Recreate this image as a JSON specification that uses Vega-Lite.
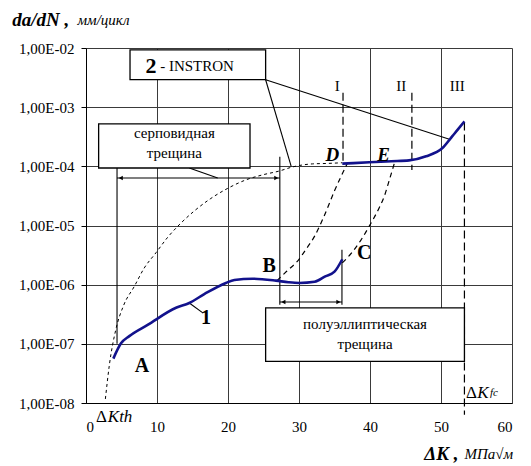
{
  "$schema": "https://vega.github.io/schema/vega-lite/v6.json",
  "width": 426,
  "height": 355,
  "autosize": {"type": "none"},
  "padding": {"left": 86, "top": 48, "right": 19, "bottom": 63},
  "background": "white",
  "config": {
    "view": {"stroke": null},
    "font": "Liberation Serif",
    "axis": {"labelFont": "Liberation Serif", "labelColor": "black", "gridColor": "#3a3a3a", "gridOpacity": 1, "gridWidth": 1, "domainColor": "black", "tickColor": "black"}
  },
  "datasets": {
    "curve1": [
      {"k": 3.85, "v": 5.62e-8}, {"k": 4.93, "v": 1.02e-7}, {"k": 6.1, "v": 1.35e-7}, {"k": 8.68, "v": 2.09e-7},
      {"k": 12.68, "v": 4.07e-7}, {"k": 14.55, "v": 4.9e-7}, {"k": 16.66, "v": 6.92e-7}, {"k": 19.7, "v": 1.07e-6},
      {"k": 20.9, "v": 1.2e-6}, {"k": 23.46, "v": 1.26e-6}, {"k": 26.76, "v": 1.17e-6}, {"k": 28.5, "v": 1.1e-6},
      {"k": 30.04, "v": 1.07e-6}, {"k": 32.2, "v": 1.12e-6}, {"k": 33.7, "v": 1.38e-6}, {"k": 35.0, "v": 1.66e-6},
      {"k": 36.1, "v": 2.69e-6}
    ],
    "curve2": [
      {"k": 36.1, "v": 1.11e-4}, {"k": 39.9, "v": 1.17e-4}, {"k": 43.0, "v": 1.22e-4}, {"k": 45.5, "v": 1.26e-4},
      {"k": 47.9, "v": 1.48e-4}, {"k": 50.2, "v": 2.04e-4}, {"k": 51.6, "v": 3.24e-4}, {"k": 52.5, "v": 4.37e-4},
      {"k": 53.3, "v": 5.75e-4}
    ],
    "serp": [
      {"k": 2.73, "v": 1.17e-8}, {"k": 3.3, "v": 4.47e-8}, {"k": 4.2, "v": 1.74e-7}, {"k": 5.3, "v": 4.47e-7},
      {"k": 6.8, "v": 9.33e-7}, {"k": 8.2, "v": 1.91e-6}, {"k": 9.86, "v": 3.47e-6}, {"k": 11.5, "v": 6.31e-6},
      {"k": 13.1, "v": 1.02e-5}, {"k": 15.2, "v": 1.74e-5}, {"k": 17.5, "v": 2.82e-5}, {"k": 20.0, "v": 4.27e-5},
      {"k": 22.5, "v": 5.89e-5}, {"k": 25.0, "v": 7.24e-5}, {"k": 27.2, "v": 8.32e-5}, {"k": 29.1, "v": 9.77e-5},
      {"k": 31.9, "v": 1.1e-4}, {"k": 34.0, "v": 1.12e-4}, {"k": 36.1, "v": 1.15e-4}
    ],
    "bd": [
      {"k": 26.9, "v": 1.17e-6}, {"k": 28.3, "v": 1.7e-6}, {"k": 29.8, "v": 2.51e-6}, {"k": 31.0, "v": 3.98e-6},
      {"k": 32.2, "v": 6.61e-6}, {"k": 33.5, "v": 1.41e-5}, {"k": 35.0, "v": 3.85e-5}, {"k": 36.85, "v": 1.15e-4}
    ],
    "ce": [
      {"k": 36.1, "v": 2.34e-6}, {"k": 37.5, "v": 3.55e-6}, {"k": 38.7, "v": 5.62e-6}, {"k": 39.9, "v": 9.77e-6},
      {"k": 41.3, "v": 2.0e-5}, {"k": 42.0, "v": 3.09e-5}, {"k": 42.8, "v": 6.31e-5}, {"k": 43.5, "v": 1.2e-4}
    ],
    "segs": [
      {"k": 25.3, "v": 2.91e-3, "k2": 51.4, "v2": 2.82e-4},
      {"k": 25.3, "v": 2.91e-3, "k2": 28.9, "v2": 1.0e-4},
      {"k": 14.55, "v": 9.38e-5, "k2": 18.55, "v2": 6.35e-5},
      {"k": 4.37, "v": 9.38e-5, "k2": 4.37, "v2": 1.0e-7},
      {"k": 27.3, "v": 1.45e-4, "k2": 27.3, "v2": 4.57e-7},
      {"k": 36.05, "v": 3.89e-6, "k2": 36.05, "v2": 4.57e-7},
      {"k": 14.55, "v": 4.9e-7, "k2": 16.5, "v2": 3.31e-7},
      {"k": 4.37, "v": 6.35e-5, "k2": 27.3, "v2": 6.35e-5},
      {"k": 27.3, "v": 5.09e-7, "k2": 36.05, "v2": 5.09e-7}
    ],
    "dashv": [
      {"k": 36.2, "v": 1.75e-3, "v2": 1.07e-4},
      {"k": 45.9, "v": 1.75e-3, "v2": 8.7e-5},
      {"k": 53.3, "v": 5.5e-4, "v2": 6.3e-9}
    ],
    "heads": [
      {"k": 4.9, "v": 6.35e-5, "dir": "triangle-left"},
      {"k": 26.8, "v": 6.35e-5, "dir": "triangle-right"},
      {"k": 27.8, "v": 5.09e-7, "dir": "triangle-left"},
      {"k": 35.55, "v": 5.09e-7, "dir": "triangle-right"}
    ],
    "boxes": [
      {"k": 6.2, "v": 9.33e-3, "k2": 25.3, "v2": 2.91e-3},
      {"k": 1.78, "v": 5.2e-4, "k2": 23.1, "v2": 9.38e-5},
      {"k": 25.3, "v": 4.04e-7, "k2": 53.3, "v2": 5.05e-8}
    ]
  },
  "layer": [
    {
      "data": {"values": [{"k": 0, "v": 1e-8}]},
      "mark": {"type": "point", "opacity": 0},
      "encoding": {
        "x": {"field": "k", "type": "quantitative", "scale": {"domain": [0, 60], "nice": false},
          "axis": {"values": [0, 10, 20, 30, 40, 50, 60], "title": null, "ticks": false, "labelFontSize": 15, "labelPadding": 16, "grid": true}},
        "y": {"field": "v", "type": "quantitative", "scale": {"type": "log", "domain": [1e-8, 1e-2], "nice": false},
          "axis": {"values": [1e-8, 1e-7, 1e-6, 1e-5, 1e-4, 1e-3, 1e-2], "title": null, "tickSize": 5, "labelPadding": 7, "labelFontSize": 15, "grid": true,
            "labelExpr": "'1,00E-' + format(round(-log(datum.value)/LN10), '02d')"}}
      }
    },
    {
      "data": {"name": "segs"},
      "mark": {"type": "rule", "color": "black", "strokeWidth": 1.1},
      "encoding": {"x": {"field": "k", "type": "quantitative"}, "y": {"field": "v", "type": "quantitative"}, "x2": {"field": "k2"}, "y2": {"field": "v2"}}
    },
    {
      "data": {"name": "heads"},
      "mark": {"type": "point", "filled": true, "color": "black", "size": 22, "opacity": 1},
      "encoding": {"x": {"field": "k", "type": "quantitative"}, "y": {"field": "v", "type": "quantitative"}, "shape": {"field": "dir", "type": "nominal", "scale": null}}
    },
    {
      "data": {"name": "dashv"},
      "mark": {"type": "rule", "color": "black", "strokeWidth": 1.2, "strokeDash": [8, 4]},
      "encoding": {"x": {"field": "k", "type": "quantitative"}, "y": {"field": "v", "type": "quantitative"}, "y2": {"field": "v2"}}
    },
    {
      "data": {"name": "serp"},
      "mark": {"type": "line", "color": "black", "strokeWidth": 1, "strokeDash": [3, 3], "interpolate": "monotone"},
      "encoding": {"x": {"field": "k", "type": "quantitative"}, "y": {"field": "v", "type": "quantitative"}}
    },
    {
      "data": {"name": "bd"},
      "mark": {"type": "line", "color": "black", "strokeWidth": 1.2, "strokeDash": [5, 4], "interpolate": "monotone"},
      "encoding": {"x": {"field": "k", "type": "quantitative"}, "y": {"field": "v", "type": "quantitative"}}
    },
    {
      "data": {"name": "ce"},
      "mark": {"type": "line", "color": "black", "strokeWidth": 1.2, "strokeDash": [5, 4], "interpolate": "monotone"},
      "encoding": {"x": {"field": "k", "type": "quantitative"}, "y": {"field": "v", "type": "quantitative"}}
    },
    {
      "data": {"name": "boxes"},
      "mark": {"type": "rect", "fill": "white", "stroke": "black", "strokeWidth": 1.3},
      "encoding": {"x": {"field": "k", "type": "quantitative"}, "y": {"field": "v", "type": "quantitative"}, "x2": {"field": "k2"}, "y2": {"field": "v2"}}
    },
    {
      "data": {"name": "curve1"},
      "mark": {"type": "line", "color": "#12128c", "strokeWidth": 2.6, "interpolate": "monotone"},
      "encoding": {"x": {"field": "k", "type": "quantitative"}, "y": {"field": "v", "type": "quantitative"}}
    },
    {
      "data": {"name": "curve2"},
      "mark": {"type": "line", "color": "#12128c", "strokeWidth": 2.6, "interpolate": "monotone"},
      "encoding": {"x": {"field": "k", "type": "quantitative"}, "y": {"field": "v", "type": "quantitative"}}
    },
    {
      "data": {"values": [
        {"t": "A", "k": 7.9, "v": 4.17e-8}, {"t": "B", "k": 25.8, "v": 2.04e-6},
        {"t": "C", "k": 39.2, "v": 3.47e-6}, {"t": "1", "k": 16.9, "v": 2.75e-7}
      ]},
      "mark": {"type": "text", "font": "Liberation Serif", "fontWeight": "bold", "fontSize": 20, "align": "center", "baseline": "middle"},
      "encoding": {"x": {"field": "k", "type": "quantitative"}, "y": {"field": "v", "type": "quantitative"}, "text": {"field": "t"}}
    },
    {
      "data": {"values": [{"t": "D", "k": 34.7, "v": 1.55e-4}, {"t": "E", "k": 41.9, "v": 1.55e-4}]},
      "mark": {"type": "text", "font": "Liberation Serif", "fontWeight": "bold", "fontStyle": "italic", "fontSize": 19, "align": "center", "baseline": "middle"},
      "encoding": {"x": {"field": "k", "type": "quantitative"}, "y": {"field": "v", "type": "quantitative"}, "text": {"field": "t"}}
    },
    {
      "data": {"values": [{"t": "I", "k": 35.4, "v": 2.24e-3}, {"t": "II", "k": 44.4, "v": 2.24e-3}, {"t": "III", "k": 52.3, "v": 2.24e-3}]},
      "mark": {"type": "text", "font": "Liberation Serif", "fontSize": 15, "align": "center", "baseline": "middle"},
      "encoding": {"x": {"field": "k", "type": "quantitative"}, "y": {"field": "v", "type": "quantitative"}, "text": {"field": "t"}}
    },
    {
      "data": {"values": [
        {"t": "серповидная", "k": 12.45, "v": 3.66e-4}, {"t": "трещина", "k": 12.45, "v": 1.68e-4},
        {"t": "полуэллиптическая", "k": 39.3, "v": 2.19e-7}, {"t": "трещина", "k": 39.3, "v": 1.0e-7}
      ]},
      "mark": {"type": "text", "font": "Liberation Serif", "fontSize": 15, "align": "center", "baseline": "middle"},
      "encoding": {"x": {"field": "k", "type": "quantitative"}, "y": {"field": "v", "type": "quantitative"}, "text": {"field": "t"}}
    },
    {
      "data": {"values": [{"t": "2", "k": 9.15, "v": 5.0e-3}]},
      "mark": {"type": "text", "font": "Liberation Serif", "fontWeight": "bold", "fontSize": 22, "align": "center", "baseline": "middle"},
      "encoding": {"x": {"field": "k", "type": "quantitative"}, "y": {"field": "v", "type": "quantitative"}, "text": {"field": "t"}}
    },
    {
      "data": {"values": [{"t": "- INSTRON", "k": 10.45, "v": 5.0e-3}]},
      "mark": {"type": "text", "font": "Liberation Serif", "fontSize": 15, "align": "left", "baseline": "middle"},
      "encoding": {"x": {"field": "k", "type": "quantitative"}, "y": {"field": "v", "type": "quantitative"}, "text": {"field": "t"}}
    },
    {
      "data": {"values": [{"t": "Δ", "k": 1.41, "v": 5.9e-9}, {"t": "Δ", "k": 53.52, "v": 1.48e-8}]},
      "mark": {"type": "text", "font": "Liberation Serif", "fontSize": 17, "align": "left", "baseline": "middle"},
      "encoding": {"x": {"field": "k", "type": "quantitative"}, "y": {"field": "v", "type": "quantitative"}, "text": {"field": "t"}}
    },
    {
      "data": {"values": [{"t": "Kth", "k": 3.07, "v": 5.9e-9}, {"t": "K", "k": 55.1, "v": 1.48e-8}]},
      "mark": {"type": "text", "font": "Liberation Serif", "fontStyle": "italic", "fontSize": 17, "align": "left", "baseline": "middle"},
      "encoding": {"x": {"field": "k", "type": "quantitative"}, "y": {"field": "v", "type": "quantitative"}, "text": {"field": "t"}}
    },
    {
      "data": {"values": [{"t": "fc", "k": 56.9, "v": 1.45e-8}]},
      "mark": {"type": "text", "font": "Liberation Serif", "fontStyle": "italic", "fontSize": 11, "align": "left", "baseline": "middle"},
      "encoding": {"x": {"field": "k", "type": "quantitative"}, "y": {"field": "v", "type": "quantitative"}, "text": {"field": "t"}}
    },
    {
      "data": {"values": [{"t": "da/dN ,", "k": -10.4, "v": 0.0302}, {"t": "ΔK ,", "k": 47.65, "v": 1.4e-9}]},
      "mark": {"type": "text", "font": "Liberation Serif", "fontStyle": "italic", "fontWeight": "bold", "fontSize": 19, "align": "left", "baseline": "middle"},
      "encoding": {"x": {"field": "k", "type": "quantitative"}, "y": {"field": "v", "type": "quantitative"}, "text": {"field": "t"}}
    },
    {
      "data": {"values": [{"t": "мм/цикл", "k": -1.2, "v": 0.0302}, {"t": "МПа√м", "k": 53.3, "v": 1.4e-9}]},
      "mark": {"type": "text", "font": "Liberation Serif", "fontStyle": "italic", "fontSize": 15, "align": "left", "baseline": "middle"},
      "encoding": {"x": {"field": "k", "type": "quantitative"}, "y": {"field": "v", "type": "quantitative"}, "text": {"field": "t"}}
    }
  ]
}
